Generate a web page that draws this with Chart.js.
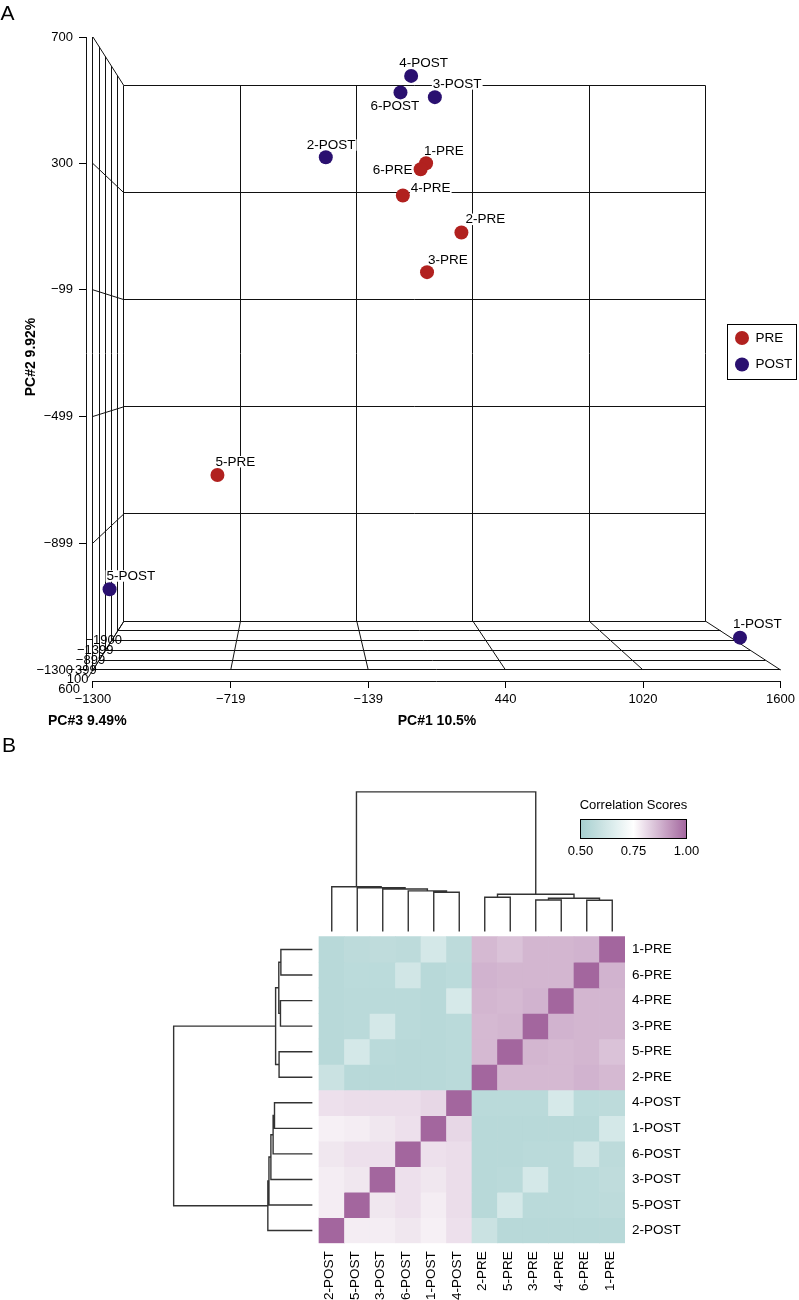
<!DOCTYPE html>
<html>
<head>
<meta charset="utf-8">
<script src="https://cdn.jsdelivr.net/npm/chart.js@4.4.1/dist/chart.umd.min.js"></script>
<style>
  html, body { margin: 0; padding: 0; background: #fff; }
  #wrap { position: relative; width: 799px; height: 1300px; overflow: hidden; }
  .panel { position: absolute; left: 0; width: 799px; }
  #pcaBox { top: 0; height: 730px; }
  #heatBox { top: 730px; height: 570px; }
</style>
</head>
<body>
<div id="wrap">
  <div class="panel" id="pcaBox"><canvas id="pcaChart"></canvas></div>
  <div class="panel" id="heatBox"><canvas id="heatChart"></canvas></div>
</div>
<script>
// ---------- panel A: PCA scores (projected onto the front plane) ----------
var preNames = ['1-PRE', '2-PRE', '3-PRE', '4-PRE', '5-PRE', '6-PRE'];
var prePC1 = [105, 254, 109, 7, -775, 82];
var prePC2 = [301, 82, -43, 199, -684, 282];

var postNames = ['1-POST', '2-POST', '3-POST', '4-POST', '5-POST', '6-POST'];
var postPC1 = [1429, -318, 142, 42, -1230, -3];
var postPC2 = [-1198, 320, 510, 577, -1045, 525];

var pc1Ticks = [-1300, -719, -139, 440, 1020, 1600];
var pc2Ticks = [700, 300, -99, -499, -899, -1300];
var pc3Ticks = [600, 100, -399, -899, -1399, -1900];

// ---------- panel B: correlation heatmap ----------
var colLabels = ['2-POST', '5-POST', '3-POST', '6-POST', '1-POST', '4-POST',
                 '2-PRE', '5-PRE', '3-PRE', '4-PRE', '6-PRE', '1-PRE'];
var rowLabels = ['1-PRE', '6-PRE', '4-PRE', '3-PRE', '5-PRE', '2-PRE',
                 '4-POST', '1-POST', '6-POST', '3-POST', '5-POST', '2-POST'];
var corr = [
  [0.55, 0.565, 0.57, 0.565, 0.63, 0.565, 0.865, 0.85, 0.87, 0.87, 0.875, 1.00],
  [0.55, 0.56, 0.56, 0.62, 0.55, 0.56, 0.875, 0.87, 0.87, 0.87, 1.00, 0.875],
  [0.55, 0.555, 0.555, 0.555, 0.55, 0.635, 0.87, 0.865, 0.875, 1.00, 0.87, 0.87],
  [0.55, 0.555, 0.63, 0.555, 0.55, 0.555, 0.865, 0.87, 1.00, 0.875, 0.87, 0.87],
  [0.55, 0.63, 0.555, 0.55, 0.55, 0.555, 0.865, 1.00, 0.87, 0.865, 0.87, 0.85],
  [0.60, 0.55, 0.55, 0.55, 0.55, 0.555, 1.00, 0.865, 0.865, 0.865, 0.875, 0.865],
  [0.80, 0.805, 0.805, 0.805, 0.815, 1.00, 0.555, 0.555, 0.555, 0.635, 0.56, 0.565],
  [0.775, 0.78, 0.79, 0.80, 1.00, 0.815, 0.55, 0.55, 0.55, 0.55, 0.55, 0.63],
  [0.79, 0.80, 0.80, 1.00, 0.80, 0.805, 0.55, 0.55, 0.555, 0.555, 0.62, 0.565],
  [0.78, 0.79, 1.00, 0.80, 0.79, 0.805, 0.55, 0.555, 0.63, 0.555, 0.56, 0.57],
  [0.78, 1.00, 0.79, 0.80, 0.78, 0.805, 0.55, 0.63, 0.555, 0.555, 0.56, 0.565],
  [1.00, 0.78, 0.78, 0.79, 0.775, 0.80, 0.60, 0.55, 0.55, 0.55, 0.55, 0.55]
];
// hclust-style merges: negative = leaf (1-based), positive = earlier merge; third item = height
var colMerges = [
  [-5, -6, 0.281], [-4, 1, 0.291], [-3, 2, 0.305], [-2, 3, 0.314], [-1, 4, 0.321],
  [-7, -8, 0.246], [-9, -10, 0.226], [-11, -12, 0.224], [7, 8, 0.239], [6, 9, 0.267],
  [5, 10, 1.0]
];
var rowMerges = [
  [-1, -2, 0.227], [-3, -4, 0.230], [1, 2, 0.242], [-5, -6, 0.240], [3, 4, 0.265],
  [-7, -8, 0.273], [6, -9, 0.283], [7, -10, 0.299], [8, -11, 0.313], [9, -12, 0.321],
  [5, 10, 1.0]
];
var keyTicks = [0.50, 0.75, 1.00];

// ---------- styles ----------
var FONT = '"Liberation Sans", Arial, Helvetica, sans-serif';
Chart.defaults.font.family = FONT;
Chart.defaults.color = '#000';

var preColor = '#b1211f';
var postColor = '#2a1070';
var colourStops = [[0.50, [166, 207, 207]], [0.75, [255, 255, 255]], [1.00, [163, 102, 158]]];

function fmt(v) { return v < 0 ? '\u2212' + Math.abs(v) : String(v); }

function corrColor(v) {
  var s = colourStops;
  if (v <= s[0][0]) return 'rgb(' + s[0][1].join(',') + ')';
  for (var i = 1; i < s.length; i++) {
    if (v <= s[i][0]) {
      var f = (v - s[i - 1][0]) / (s[i][0] - s[i - 1][0]);
      var c = s[i - 1][1].map(function (a, k) { return Math.round(a + f * (s[i][1][k] - a)); });
      return 'rgb(' + c.join(',') + ')';
    }
  }
  return 'rgb(' + s[s.length - 1][1].join(',') + ')';
}

// simple perspective for the 3D box (depth pulls toward a vanishing point)
var depthShrink = 0.846;
var vanish = { x: -452, y: -300 };
var zFront = pc3Ticks[0], zBack = pc3Ticks[pc3Ticks.length - 1];
function depthFrac(z) { return (zFront - z) / (zFront - zBack); }
function project(x, y, z) {
  var t = depthFrac(z) * (1 - depthShrink);
  return { x: x + t * (vanish.x - x), y: y + t * (vanish.y - y) };
}

var labelNudge = {
  '4-POST': [-12, -13], '6-POST': [-30, 14], '3-POST': [-2, -13], '2-POST': [-19, -12],
  '1-PRE': [-2, -12], '6-PRE': [-48, 1], '4-PRE': [8, -7], '2-PRE': [4, -13],
  '3-PRE': [1, -12], '5-PRE': [-2, -13], '5-POST': [-3, -13], '1-POST': [-7, -13]
};

function crisp(v) { return Math.round(v - 0.5) + 0.5; }

var boxPlugin = {
  id: 'boxPlugin',
  beforeDatasetsDraw: function (chart) {
    var ctx = chart.ctx, xs = chart.scales.x, ys = chart.scales.y;
    var xMin = pc1Ticks[0], xMax = pc1Ticks[pc1Ticks.length - 1];
    var yMax = pc2Ticks[0], yMin = pc2Ticks[pc2Ticks.length - 1];
    var segs = [];
    pc1Ticks.forEach(function (v) {
      segs.push([[v, yMin, zBack], [v, yMax, zBack]]);
      segs.push([[v, yMin, zFront], [v, yMin, zBack]]);
    });
    pc2Ticks.forEach(function (v) {
      segs.push([[xMin, v, zBack], [xMax, v, zBack]]);
      segs.push([[xMin, v, zFront], [xMin, v, zBack]]);
    });
    pc3Ticks.forEach(function (v) {
      segs.push([[xMin, yMin, v], [xMin, yMax, v]]);
      segs.push([[xMin, yMin, v], [xMax, yMin, v]]);
    });
    segs.push([[xMin, yMin, zFront + 0.16 * (zFront - zBack)], [xMin, yMin, zFront]]);

    ctx.save();
    ctx.strokeStyle = '#111';
    ctx.lineWidth = 1;
    ctx.beginPath();
    segs.forEach(function (s) {
      var a = project(s[0][0], s[0][1], s[0][2]), b = project(s[1][0], s[1][1], s[1][2]);
      var ax = xs.getPixelForValue(a.x), ay = ys.getPixelForValue(a.y);
      var bx = xs.getPixelForValue(b.x), by = ys.getPixelForValue(b.y);
      if (Math.abs(ax - bx) < 0.01) { ax = bx = crisp(ax); }
      if (Math.abs(ay - by) < 0.01) { ay = by = crisp(ay); }
      ctx.moveTo(ax, ay);
      ctx.lineTo(bx, by);
    });
    // R-style axis lines, first tick to last tick
    var ax0 = crisp(chart.chartArea.left), ay0 = crisp(chart.chartArea.bottom);
    ctx.moveTo(ax0, ys.getPixelForValue(yMax));
    ctx.lineTo(ax0, ys.getPixelForValue(yMin));
    ctx.moveTo(xs.getPixelForValue(xMin), ay0);
    ctx.lineTo(xs.getPixelForValue(xMax), ay0);
    ctx.stroke();

    // depth (PC3) tick labels along the floor edge
    ctx.font = '13px ' + FONT;
    ctx.fillStyle = '#000';
    ctx.textAlign = 'right';
    ctx.textBaseline = 'middle';
    pc3Ticks.forEach(function (v) {
      var t = depthFrac(v), p = project(xMin, yMin, v);
      ctx.fillText(fmt(v), xs.getPixelForValue(p.x) - 13 + 11 * t, ys.getPixelForValue(p.y) + 19.5);
    });

    // sample labels with white backing
    ctx.font = '13.5px ' + FONT;
    ctx.textAlign = 'left';
    chart.data.datasets.forEach(function (ds, di) {
      var meta = chart.getDatasetMeta(di);
      ds.data.forEach(function (d, i) {
        var el = meta.data[i], off = labelNudge[d.name] || [0, -13];
        var tx = el.x + off[0], ty = el.y + off[1];
        var w = ctx.measureText(d.name).width;
        ctx.fillStyle = '#fff';
        ctx.fillRect(tx - 1, ty - 6, w + 2, 11.5);
        ctx.fillStyle = '#000';
        ctx.fillText(d.name, tx, ty);
      });
    });
    ctx.restore();
  },
  afterDraw: function (chart) {
    var ctx = chart.ctx;
    ctx.save();
    ctx.fillStyle = '#000';
    ctx.font = '21px ' + FONT;
    ctx.textAlign = 'left';
    ctx.textBaseline = 'alphabetic';
    ctx.fillText('A', 0.5, 19.5);

    ctx.font = 'bold 14px ' + FONT;
    ctx.textBaseline = 'middle';
    ctx.textAlign = 'left';
    ctx.fillText('PC#3 9.49%', 48, 721);
    ctx.textAlign = 'center';
    ctx.fillText('PC#1 10.5%', 437, 721);
    ctx.save();
    ctx.translate(31, 357);
    ctx.rotate(-Math.PI / 2);
    ctx.fillText('PC#2 9.92%', 0, 0);
    ctx.restore();

    // legend
    var lx = 727.5, ly = 324.5, lw = 69, lh = 55;
    ctx.fillStyle = '#fff';
    ctx.fillRect(lx, ly, lw, lh);
    ctx.strokeStyle = '#000';
    ctx.lineWidth = 1;
    ctx.strokeRect(lx, ly, lw, lh);
    ctx.font = '13.5px ' + FONT;
    ctx.textAlign = 'left';
    chart.data.datasets.forEach(function (ds, i) {
      var cy = ly + 13.5 + i * 26.5;
      ctx.beginPath();
      ctx.arc(lx + 14.5, cy, 7, 0, Math.PI * 2);
      ctx.fillStyle = ds.backgroundColor;
      ctx.fill();
      ctx.fillStyle = '#000';
      ctx.fillText(ds.label, lx + 28, cy);
    });
    ctx.restore();
  }
};

new Chart(document.getElementById('pcaChart'), {
  type: 'scatter',
  data: {
    datasets: [
      {
        label: 'PRE',
        data: preNames.map(function (n, i) { return { x: prePC1[i], y: prePC2[i], name: n }; }),
        backgroundColor: preColor, pointRadius: 7, pointHoverRadius: 7, borderWidth: 0
      },
      {
        label: 'POST',
        data: postNames.map(function (n, i) { return { x: postPC1[i], y: postPC2[i], name: n }; }),
        backgroundColor: postColor, pointRadius: 7, pointHoverRadius: 7, borderWidth: 0
      }
    ]
  },
  options: {
    responsive: true,
    maintainAspectRatio: false,
    animation: false,
    events: [],
    layout: { padding: { left: 0, top: 37, right: 16, bottom: 0 } },
    plugins: { legend: { display: false }, tooltip: { enabled: false } },
    scales: {
      x: {
        type: 'linear', min: -1329.4, max: 1600,
        afterBuildTicks: function (s) { s.ticks = pc1Ticks.map(function (v) { return { value: v }; }); },
        afterFit: function (s) { s.height = 49; },
        grid: { drawOnChartArea: false, drawTicks: true, tickLength: 7, color: '#000' },
        border: { display: false },
        ticks: {
          autoSkip: false, maxRotation: 0, padding: 4, color: '#000',
          font: { size: 13 },
          callback: function (v) { return fmt(v); }
        }
      },
      y: {
        type: 'linear', min: -1335, max: 700,
        afterBuildTicks: function (s) { s.ticks = pc2Ticks.map(function (v) { return { value: v }; }); },
        afterFit: function (s) { s.width = 86; },
        grid: { drawOnChartArea: false, drawTicks: true, tickLength: 7, color: '#000' },
        border: { display: false },
        ticks: {
          autoSkip: false, padding: 6, color: '#000',
          font: { size: 13 },
          callback: function (v) { return fmt(v); }
        }
      }
    }
  },
  plugins: [boxPlugin]
});

// ---------- panel B ----------
function dendroPoints(merges, leafPos, heightCoord, vertical) {
  var pos = [], hgt = [], pts = [];
  function childPos(c) { return c < 0 ? leafPos(-c - 1) : pos[c - 1]; }
  function childH(c) { return c < 0 ? 0 : hgt[c - 1]; }
  merges.forEach(function (m, k) {
    var pa = childPos(m[0]), pb = childPos(m[1]);
    var ha = heightCoord(childH(m[0])), hb = heightCoord(childH(m[1])), h = heightCoord(m[2]);
    pos[k] = (pa + pb) / 2;
    hgt[k] = m[2];
    var seq = [[pa, ha], [pa, h], [pb, h], [pb, hb]];
    seq.forEach(function (p) {
      pts.push(vertical ? { x: p[0], y: p[1] } : { x: p[1], y: p[0] });
    });
    pts.push({ x: null, y: null });
  });
  return pts;
}

var heatDatasets = rowLabels.map(function (name, r) {
  return {
    type: 'bar',
    label: name,
    data: colLabels.map(function (c, j) { return { x: j + 0.5, y: [11 - r, 12 - r] }; }),
    backgroundColor: corr[r].map(corrColor),
    borderWidth: 0,
    barPercentage: 1,
    categoryPercentage: 1,
    grouped: false,
    order: 2
  };
});

var dendroStyle = { type: 'line', borderColor: '#333', borderWidth: 1.4, pointRadius: 0, spanGaps: false, fill: false, order: 1 };
heatDatasets.push(Object.assign({
  label: 'column tree',
  data: dendroPoints(colMerges, function (i) { return i + 0.5; }, function (h) { return 12.2 + h * 5.47; }, true)
}, dendroStyle));
heatDatasets.push(Object.assign({
  label: 'row tree',
  data: dendroPoints(rowMerges, function (i) { return 11.5 - i; }, function (h) { return -0.26 - h * 5.44; }, false)
}, dendroStyle));

var heatDecor = {
  id: 'heatDecor',
  afterDraw: function (chart) {
    var ctx = chart.ctx;
    ctx.save();
    ctx.fillStyle = '#000';
    ctx.font = '21px ' + FONT;
    ctx.textAlign = 'left';
    ctx.textBaseline = 'alphabetic';
    ctx.fillText('B', 2, 22);

    // colour key
    var kx = 580.5, ky = 89.5, kw = 106, kh = 19;
    var kMin = keyTicks[0], kMax = keyTicks[keyTicks.length - 1];
    var grad = ctx.createLinearGradient(kx, 0, kx + kw, 0);
    var steps = 20;
    for (var i = 0; i <= steps; i++) {
      var f = i / steps;
      grad.addColorStop(Math.min(1, Math.max(0, f)), corrColor(kMin + f * (kMax - kMin)));
    }
    ctx.fillStyle = grad;
    ctx.fillRect(kx, ky, kw, kh);
    ctx.strokeStyle = '#000';
    ctx.lineWidth = 1;
    ctx.strokeRect(kx, ky, kw, kh);

    ctx.fillStyle = '#000';
    ctx.font = '13px ' + FONT;
    ctx.textAlign = 'center';
    ctx.textBaseline = 'middle';
    ctx.fillText('Correlation Scores', kx + kw / 2, 75);
    keyTicks.forEach(function (t) {
      ctx.fillText(t.toFixed(2), kx + (t - kMin) / (kMax - kMin) * kw, 121.5);
    });
    ctx.restore();
  }
};

new Chart(document.getElementById('heatChart'), {
  type: 'bar',
  data: { datasets: heatDatasets },
  options: {
    responsive: true,
    maintainAspectRatio: false,
    animation: false,
    events: [],
    layout: { padding: { left: 166, top: 53.4, right: 0, bottom: 0 } },
    plugins: { legend: { display: false }, tooltip: { enabled: false } },
    scales: {
      x: {
        type: 'linear', min: -6, max: 12, offset: false,
        afterBuildTicks: function (s) { s.ticks = colLabels.map(function (c, j) { return { value: j + 0.5 }; }); },
        afterFit: function (s) { s.height = 56.7; },
        grid: { display: false, drawTicks: false, offset: false },
        border: { display: false },
        ticks: {
          autoSkip: false, minRotation: 90, maxRotation: 90, padding: 8, color: '#000',
          font: { size: 13.5 }, labelOffset: -2,
          callback: function (v) { return colLabels[Math.round(v - 0.5)]; }
        }
      },
      y: {
        type: 'linear', position: 'right', min: 0, max: 18,
        afterBuildTicks: function (s) { s.ticks = rowLabels.map(function (r, i) { return { value: 11.5 - i }; }); },
        afterFit: function (s) { s.width = 174; },
        grid: { display: false, drawTicks: false },
        border: { display: false },
        ticks: {
          autoSkip: false, padding: 7, color: '#000',
          font: { size: 13.5 },
          callback: function (v) { return rowLabels[Math.round(11.5 - v)]; }
        }
      }
    }
  },
  plugins: [heatDecor]
});
</script>
</body>
</html>
